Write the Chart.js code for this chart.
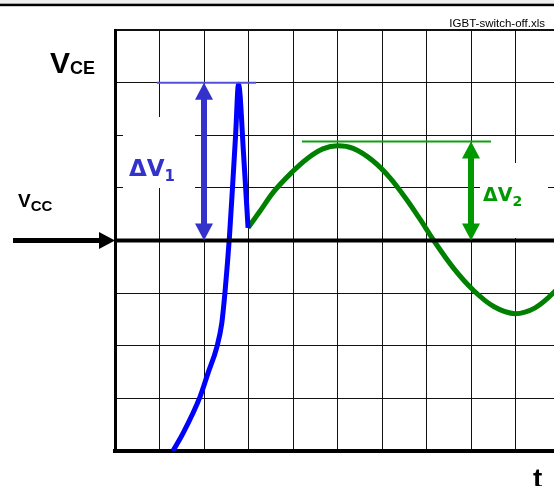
<!DOCTYPE html>
<html>
<head>
<meta charset="utf-8">
<script src="https://cdn.jsdelivr.net/npm/chart.js@4/dist/chart.umd.min.js"></script>
<style>
  html, body { margin: 0; padding: 0; background: #fff; overflow: hidden; width: 554px; height: 486px; }
  #wrap { position: relative; width: 582px; height: 486px; }
</style>
</head>
<body>
<div id="wrap"><canvas id="c" width="582" height="486"></canvas></div>
<script>
// V_CE during IGBT turn-off, in scope grid divisions (x: time, y: voltage)
const riseX = [1.30, 1.53, 1.91, 2.09, 2.29, 2.40, 2.47, 2.52, 2.57, 2.64, 2.71, 2.775, 2.89, 2.99];
const riseY = [0.00, 0.34, 1.03, 1.48, 1.98, 2.43, 3.00, 3.50, 4.05, 5.00, 6.00, 6.97, 5.63, 4.24];

const ringX = [2.99, 3.26, 3.55, 3.98, 4.31, 4.67, 5.01, 5.35, 5.80, 6.18, 6.56, 6.85, 7.17, 7.62, 8.07, 8.52, 8.99, 9.44, 9.87, 10.34];
const ringY = [4.24, 4.56, 4.91, 5.30, 5.55, 5.74, 5.80, 5.75, 5.51, 5.19, 4.77, 4.41, 3.99, 3.46, 3.04, 2.74, 2.61, 2.72, 3.02, 3.48];

// supply voltage level
const vccLevel = 4;

// overshoot markers: arrow position, peak level, span of the peak line
const dv1X = 2;    const dv1Peak = 7.0;  const dv1Span = [0.94, 3.17];
const dv2X = 8;    const dv2Peak = 5.88; const dv2Span = [4.20, 8.45];

const xMax = 10.494;
const yMax = 8;

const pts = (xs, ys) => xs.map((x, i) => ({ x, y: ys[i] }));

const BLUE = '#0000ff';
const BLUE_MARK = '#3333cc';
const GREEN = '#008000';
const GREEN_MARK = '#009900';

function subText(ctx, main, sub, x, y, mainFont, subFont, dy, color) {
  ctx.save();
  ctx.fillStyle = color;
  ctx.textBaseline = 'alphabetic';
  ctx.textAlign = 'left';
  ctx.font = mainFont;
  ctx.fillText(main, x, y);
  const w = ctx.measureText(main).width;
  ctx.font = subFont;
  ctx.fillText(sub, x + w, y + dy);
  ctx.restore();
}

function doubleArrow(ctx, x, yTop, yBot, shaft, headW, headH, color) {
  ctx.save();
  ctx.fillStyle = color;
  ctx.fillRect(x - shaft / 2, yTop + headH - 1, shaft, (yBot - yTop) - 2 * headH + 2);
  ctx.beginPath();
  ctx.moveTo(x, yTop);
  ctx.lineTo(x + headW / 2, yTop + headH);
  ctx.lineTo(x - headW / 2, yTop + headH);
  ctx.closePath();
  ctx.fill();
  ctx.beginPath();
  ctx.moveTo(x, yBot);
  ctx.lineTo(x + headW / 2, yBot - headH);
  ctx.lineTo(x - headW / 2, yBot - headH);
  ctx.closePath();
  ctx.fill();
  ctx.restore();
}

const decor = {
  id: 'decor',
  beforeDraw(chart) {
    const ctx = chart.ctx;
    ctx.save();
    ctx.fillStyle = '#efefef';
    ctx.fillRect(0, 0, chart.width, 4);
    ctx.fillStyle = '#000';
    ctx.fillRect(0, 3.7, chart.width, 2.5);
    ctx.restore();
  },
  beforeDatasetsDraw(chart) {
    // white backing behind the ΔV labels
    const ctx = chart.ctx;
    ctx.save();
    ctx.fillStyle = '#fff';
    ctx.fillRect(123, 117, 72, 71);
    ctx.fillRect(480, 163, 68, 75);
    ctx.restore();
  },
  afterDatasetsDraw(chart) {
    const ctx = chart.ctx;
    const xs = chart.scales.x, ys = chart.scales.y;

    // ΔV1
    const b1 = ys.getPixelForValue(dv1Peak), v = ys.getPixelForValue(vccLevel);
    ctx.save();
    ctx.strokeStyle = '#5050d8';
    ctx.lineWidth = 2;
    ctx.beginPath();
    ctx.moveTo(xs.getPixelForValue(dv1Span[0]), b1);
    ctx.lineTo(xs.getPixelForValue(dv1Span[1]), b1);
    ctx.stroke();
    ctx.restore();
    doubleArrow(ctx, xs.getPixelForValue(dv1X), b1, v, 6, 18, 17, BLUE_MARK);

    // ΔV2
    const b2 = ys.getPixelForValue(dv2Peak);
    ctx.save();
    ctx.strokeStyle = '#10a010';
    ctx.lineWidth = 2;
    ctx.beginPath();
    ctx.moveTo(xs.getPixelForValue(dv2Span[0]), b2);
    ctx.lineTo(xs.getPixelForValue(dv2Span[1]), b2);
    ctx.stroke();
    ctx.restore();
    doubleArrow(ctx, xs.getPixelForValue(dv2X), b2, v, 6, 18, 17, GREEN_MARK);

    // Vcc arrow coming in from the left
    ctx.save();
    ctx.fillStyle = '#000';
    const ax = chart.chartArea.left;
    ctx.fillRect(13, v - 2.5, ax - 15 - 13, 5);
    ctx.beginPath();
    ctx.moveTo(ax, v);
    ctx.lineTo(ax - 16, v - 8.5);
    ctx.lineTo(ax - 16, v + 8.5);
    ctx.closePath();
    ctx.fill();
    ctx.restore();

    // labels
    subText(ctx, 'ΔV', '1', 129, 176, 'bold 23px "DejaVu Sans"', 'bold 15px "DejaVu Sans"', 5, BLUE_MARK);
    subText(ctx, 'ΔV', '2', 483, 201, 'bold 19px "DejaVu Sans"', 'bold 14px "DejaVu Sans"', 5, GREEN_MARK);
    subText(ctx, 'V', 'CE', 50, 73, 'bold 30px "Liberation Sans"', 'bold 18px "Liberation Sans"', 1, '#000');
    subText(ctx, 'V', 'CC', 18, 207, 'bold 19px "Liberation Sans"', 'bold 15px "Liberation Sans"', 4, '#000');

    ctx.save();
    ctx.fillStyle = '#000';
    ctx.font = 'bold 28px "Liberation Sans"';
    ctx.textAlign = 'left';
    ctx.fillText('t', 533, 488);
    ctx.font = '11.5px "Liberation Sans"';
    ctx.textAlign = 'right';
    ctx.fillText('IGBT-switch-off.xls', 545, 27);
    ctx.restore();
  }
};

new Chart(document.getElementById('c'), {
  type: 'scatter',
  data: {
    datasets: [
      {
        label: 'Vcc',
        data: [{ x: 0, y: vccLevel }, { x: xMax, y: vccLevel }],
        showLine: true, borderColor: '#000', borderWidth: 4, pointRadius: 0, order: 0
      },
      {
        label: 'rise',
        data: pts(riseX, riseY),
        showLine: true, borderColor: BLUE, borderWidth: 5, pointRadius: 0,
        cubicInterpolationMode: 'monotone', order: 1
      },
      {
        label: 'ringing',
        data: pts(ringX, ringY),
        showLine: true, borderColor: GREEN, borderWidth: 5, pointRadius: 0,
        cubicInterpolationMode: 'monotone', order: 2
      }
    ]
  },
  options: {
    responsive: false,
    animation: false,
    devicePixelRatio: 1,
    layout: { padding: { top: 30, left: 0, right: 0, bottom: 0 } },
    plugins: { legend: { display: false }, tooltip: { enabled: false } },
    scales: {
      x: {
        type: 'linear', min: 0, max: xMax,
        ticks: { display: false, stepSize: 1 },
        grid: { color: '#111', lineWidth: 1, drawTicks: false },
        border: { display: true, color: '#000', width: 4 },
        afterFit(s) { s.height = 35; }
      },
      y: {
        type: 'linear', min: 0, max: yMax,
        ticks: { display: false, stepSize: 1 },
        grid: {
          color: '#111',
          lineWidth: (c) => (c.tick && c.tick.value === yMax ? 2 : 1),
          drawTicks: false
        },
        border: { display: true, color: '#000', width: 3 },
        afterFit(s) { s.width = 115; }
      }
    }
  },
  plugins: [decor]
});
</script>
</body>
</html>
